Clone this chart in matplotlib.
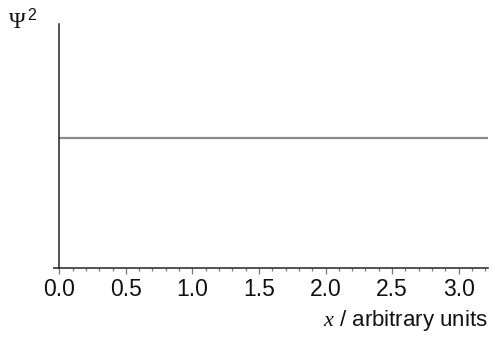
import matplotlib
matplotlib.use("Agg")
import matplotlib.pyplot as plt
from matplotlib.ticker import MultipleLocator

plt.rcParams['font.family'] = ['Liberation Sans', 'DejaVu Sans']
plt.rcParams['mathtext.fontset'] = 'custom'
plt.rcParams['mathtext.it'] = 'Liberation Serif:italic'
plt.rcParams['mathtext.rm'] = 'Liberation Sans'

# Probability density: constant across the box
x_pos = [0.0, 3.22]
psi_sq = [0.533, 0.533]
x_ticks = [0.0, 0.5, 1.0, 1.5, 2.0, 2.5, 3.0]
x_tick_labels = ["0.0", "0.5", "1.0", "1.5", "2.0", "2.5", "3.0"]

fig = plt.figure(figsize=(4.95, 3.37), dpi=100)
ax = fig.add_axes([0.1198, 0.2056, 0.866, 0.723])

ax.plot(x_pos, psi_sq, color='#8a8a8a', linewidth=1.6, solid_capstyle='butt')

ax.set_xlim(0, 3.22)
ax.set_ylim(0, 1)

for side in ('top', 'right'):
    ax.spines[side].set_visible(False)
for side in ('left', 'bottom'):
    ax.spines[side].set_color('#222222')
    ax.spines[side].set_linewidth(1.1)

ax.set_xticks(x_ticks)
ax.set_xticklabels(x_tick_labels)
ax.xaxis.set_minor_locator(MultipleLocator(0.1))
ax.tick_params(axis='x', which='major', length=4.2, width=0.9, color='#777777',
               direction='out', pad=3.5, labelsize=16.5, labelcolor='#111111')
ax.tick_params(axis='x', which='minor', length=2.0, width=0.9, color='#777777',
               direction='out')

ax.set_yticks([0])
ax.set_yticklabels([""])
ax.tick_params(axis='y', which='major', length=4.5, width=1.1, color='#222222',
               direction='out')

ax.set_xlabel(r"$x$ / arbitrary units", fontsize=16, color='#111111', ha='right')
ax.xaxis.set_label_coords(1.0, -0.165)

# Axis title for the vertical axis, placed above its top-left corner
fig.text(9 / 495, 1 - 27.5 / 337, "\u03a8", fontsize=16.5, family='Liberation Serif',
         color='#111111', ha='left', va='baseline')
fig.text(27.5 / 495, 1 - 20 / 337, "2", fontsize=11.5, color='#111111',
         ha='left', va='baseline')

fig.savefig("out.png", dpi=100)
